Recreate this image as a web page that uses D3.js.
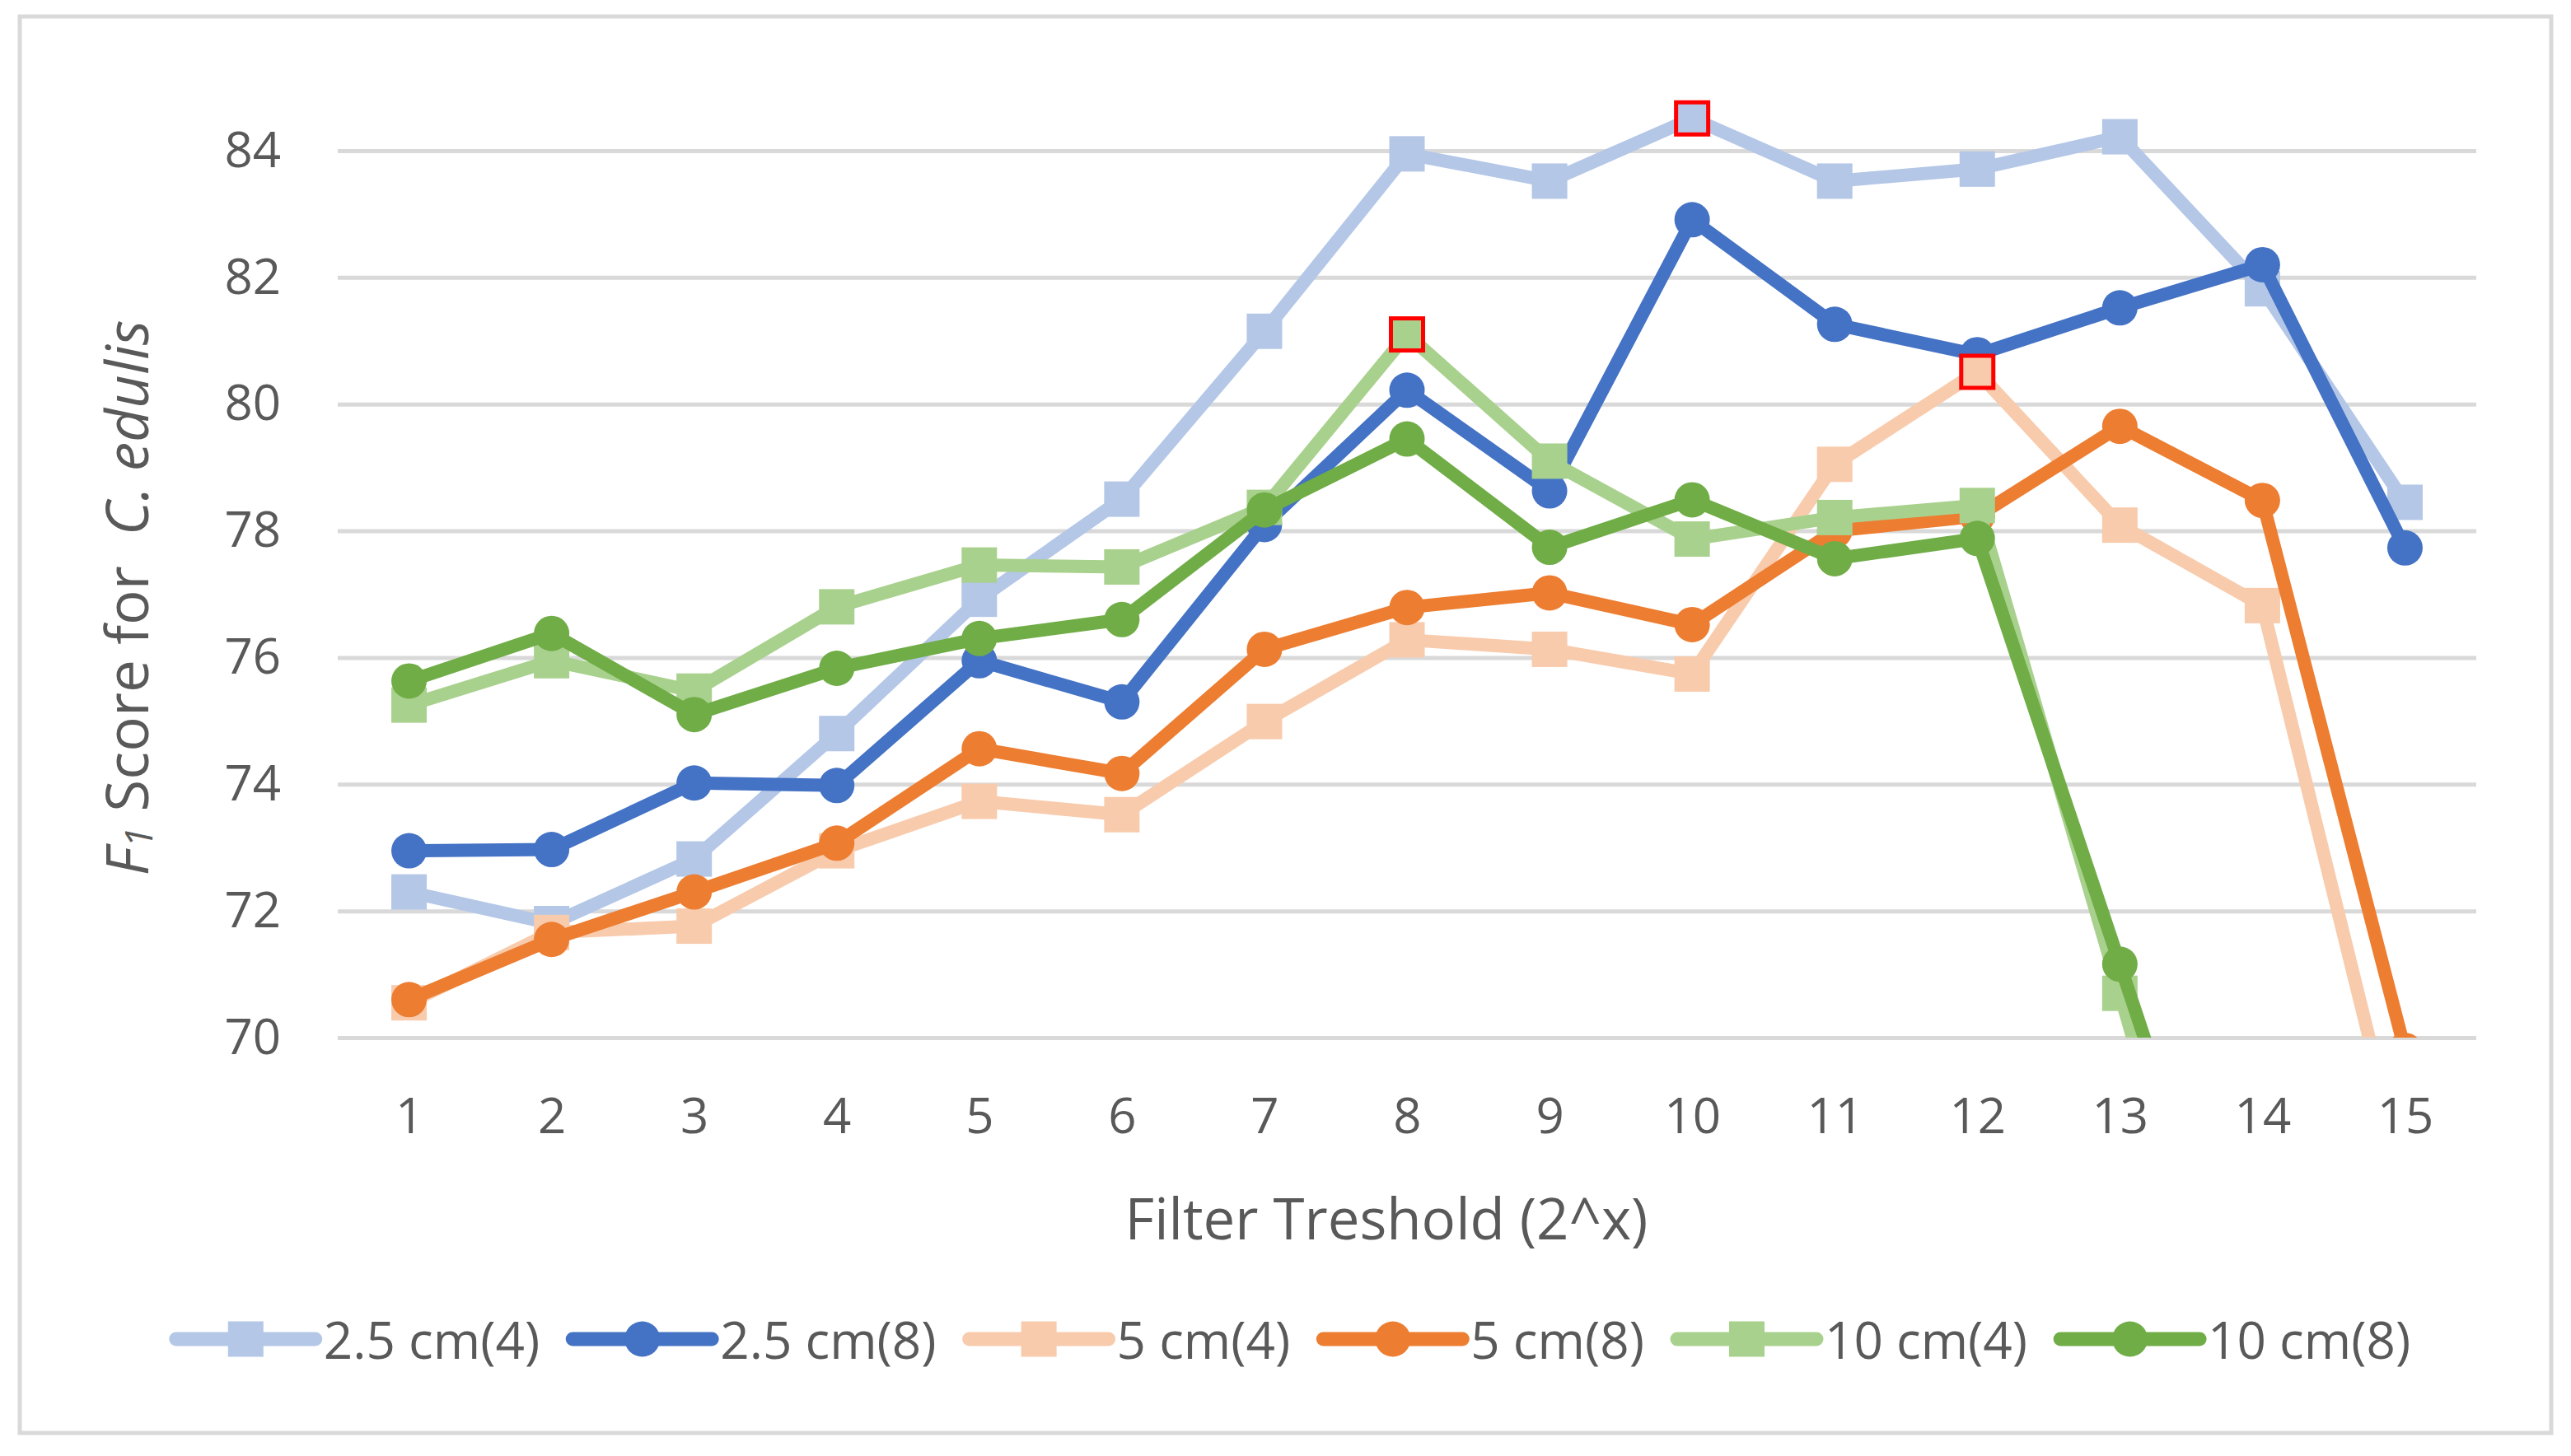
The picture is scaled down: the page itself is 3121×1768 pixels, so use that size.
<!DOCTYPE html>
<html>
<head>
<meta charset="utf-8">
<script src="https://cdn.jsdelivr.net/npm/d3@7"></script>
<style>
  body { margin: 0; background: #fff; }
  text { font-family: "Open Sans", sans-serif; fill: #595959; }
</style>
</head>
<body>
<svg id="chart"></svg>
<script>
// categories and ticks
var thresholds = [1, 2, 3, 4, 5, 6, 7, 8, 9, 10, 11, 12, 13, 14, 15];
var yTicks = [70, 72, 74, 76, 78, 80, 82, 84];

// series values (null = not readable, below axis)
var seriesNames = ["2.5 cm(4)", "2.5 cm(8)", "5 cm(4)", "5 cm(8)", "10 cm(4)", "10 cm(8)"];
var cm25_4 = [72.3, 71.8, 72.82, 74.8, 76.92, 78.5, 81.15, 83.95, 83.52, 84.51, 83.52, 83.71, 84.22, 81.82, 78.45];
var cm25_8 = [72.95, 72.97, 74.02, 73.98, 75.95, 75.3, 78.1, 80.22, 78.63, 82.91, 81.26, 80.78, 81.52, 82.2, 77.73];
var cm5_4 = [70.55, 71.66, 71.76, 72.95, 73.73, 73.52, 74.99, 76.28, 76.13, 75.74, 79.05, 80.51, 78.09, 76.82, 67.7];
var cm5_8 = [70.6, 71.55, 72.3, 73.07, 74.56, 74.17, 76.13, 76.79, 77.02, 76.52, 78.0, 78.23, 79.65, 78.48, 69.8];
var cm10_4 = [75.25, 75.95, 75.47, 76.8, 77.46, 77.43, 78.37, 81.1, 79.1, 77.87, 78.21, 78.4, 70.7, 62.9, null];
var cm10_8 = [75.63, 76.38, 75.1, 75.83, 76.3, 76.6, 78.33, 79.45, 77.74, 78.49, 77.56, 77.88, 71.16, 64.4, null];
var seriesValues = [cm25_4, cm25_8, cm5_4, cm5_8, cm10_4, cm10_8];

// best points outlined in red: [series, threshold]
var bestPoints = [["2.5 cm(4)", 10], ["10 cm(4)", 8], ["5 cm(4)", 12]];

// styles
var seriesColors = ["#B4C7E7", "#4472C4", "#F8CBAD", "#ED7D31", "#A9D18E", "#70AD47"];
var seriesMarkers = ["square", "circle", "square", "circle", "square", "circle"];

var W = 3121, H = 1768;
var plotLeft = 410, plotRight = 3006, plotTop = 183, plotBottom = 1260;

var svg = d3.select("#chart").attr("width", W).attr("height", H);

// chart area border
svg.append("rect")
    .attr("x", 24).attr("y", 20)
    .attr("width", 3073).attr("height", 1720)
    .attr("fill", "#fff")
    .attr("stroke", "#d9d9d9")
    .attr("stroke-width", 5);

var x = d3.scalePoint().domain(thresholds).range([plotLeft, plotRight]).padding(0.5);
var y = d3.scaleLinear().domain([70, 84]).range([plotBottom, plotTop]);

// y axis with gridlines
var gy = svg.append("g")
    .attr("transform", "translate(" + plotLeft + ",0)")
    .call(d3.axisLeft(y).tickValues(yTicks).tickSize(-(plotRight - plotLeft)).tickPadding(69));
gy.select(".domain").remove();
gy.selectAll("line").attr("stroke", "#d9d9d9").attr("stroke-width", 5);
gy.selectAll("text").style("font-size", "60px").attr("fill", "#595959");

// x axis
var gx = svg.append("g")
    .attr("transform", "translate(0," + plotBottom + ")")
    .call(d3.axisBottom(x).tickSize(0).tickPadding(73));
gx.select(".domain").remove();
gx.selectAll("text").style("font-size", "60px").attr("fill", "#595959");

// axis titles
svg.append("text")
    .attr("x", 1683).attr("y", 1478)
    .attr("text-anchor", "middle")
    .attr("dominant-baseline", "central")
    .style("font-size", "69px")
    .text("Filter Treshold (2^x)");

var yt = svg.append("text")
    .attr("transform", "translate(152,726) rotate(-90)")
    .attr("text-anchor", "middle")
    .attr("dominant-baseline", "central")
    .style("font-size", "71px")
    .style("white-space", "pre");
yt.append("tspan").style("font-style", "italic").text("F");
yt.append("tspan").style("font-style", "italic").style("font-size", "46px").attr("dy", 15).text("1");
yt.append("tspan").attr("dy", -15).text(" Score for  ");
yt.append("tspan").style("font-style", "italic").text("C. edulis");

// clip everything under the 70 line
svg.append("clipPath").attr("id", "plotClip")
    .append("rect").attr("x", 0).attr("y", 0).attr("width", W).attr("height", plotBottom);

var plot = svg.append("g").attr("clip-path", "url(#plotClip)");

var line = d3.line()
    .defined(function (d) { return d.v != null; })
    .x(function (d) { return x(d.t); })
    .y(function (d) { return y(d.v); });

function drawMarker(g, shape, color, cx, cy, best) {
    if (shape === "square") {
        var s = best ? 39 : 43;
        g.append("rect")
            .attr("x", cx - s / 2).attr("y", cy - s / 2)
            .attr("width", s).attr("height", s)
            .attr("fill", color)
            .attr("stroke", best ? "#FF0000" : "none")
            .attr("stroke-width", best ? 5 : 0);
    } else {
        g.append("circle")
            .attr("cx", cx).attr("cy", cy).attr("r", 21.5)
            .attr("fill", color);
    }
}

seriesNames.forEach(function (name, i) {
    var pts = thresholds.map(function (t, j) { return { t: t, v: seriesValues[i][j] }; });
    var g = plot.append("g");
    g.append("path")
        .attr("d", line(pts))
        .attr("fill", "none")
        .attr("stroke", seriesColors[i])
        .attr("stroke-width", 16)
        .attr("stroke-linejoin", "round")
        .attr("stroke-linecap", "round");
    pts.forEach(function (p) {
        if (p.v == null) return;
        var best = bestPoints.some(function (b) { return b[0] === name && b[1] === p.t; });
        drawMarker(g, seriesMarkers[i], seriesColors[i], x(p.t), y(p.v), best);
    });
});

// legend
var legY = 1626, lineLen = 169, textGap = 10, itemGap = 40;
var leg = svg.append("g");
var items = seriesNames.map(function (name, i) {
    var g = leg.append("g");
    g.append("line")
        .attr("x1", 0).attr("x2", lineLen)
        .attr("y1", 0).attr("y2", 0)
        .attr("stroke", seriesColors[i])
        .attr("stroke-width", 17)
        .attr("stroke-linecap", "round");
    drawMarker(g, seriesMarkers[i], seriesColors[i], lineLen / 2, 0, false);
    var t = g.append("text")
        .attr("x", lineLen + textGap).attr("y", 0)
        .attr("dominant-baseline", "central")
        .style("font-size", "62px")
        .text(name);
    return { g: g, w: lineLen + textGap + t.node().getComputedTextLength() };
});
var total = d3.sum(items, function (d) { return d.w; }) + itemGap * (items.length - 1);
var cur = 1570 - total / 2;
items.forEach(function (it) {
    it.g.attr("transform", "translate(" + cur + "," + legY + ")");
    cur += it.w + itemGap;
});
</script>
</body>
</html>
